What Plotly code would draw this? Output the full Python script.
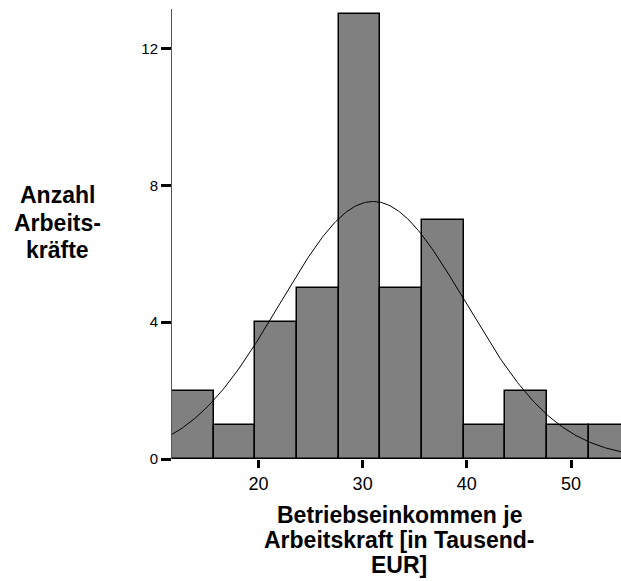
import numpy as np
import plotly.graph_objects as go

# Histogram data (bin width 4)
bin_centers = [13.7, 17.7, 21.7, 25.7, 29.7, 33.7, 37.7, 41.7, 45.7, 49.7, 53.7]
counts = [2, 1, 4, 5, 13, 5, 7, 1, 2, 1, 1]
bin_width = 4

# Fitted normal curve parameters
n_total = 42
curve_mean = 31.0
curve_sd = 8.9

x_ticks = [20, 30, 40, 50]
y_ticks = [0, 4, 8, 12]

y_title_lines = ["Anzahl", "Arbeits-", "kräfte"]
x_title_lines = ["Betriebseinkommen je", "Arbeitskraft [in Tausend-", "EUR]"]

xs = np.linspace(8, 60, 400)
curve = n_total * bin_width / (curve_sd * np.sqrt(2 * np.pi)) * np.exp(-0.5 * ((xs - curve_mean) / curve_sd) ** 2)

fig = go.Figure()
fig.add_trace(go.Bar(
    x=bin_centers, y=counts, width=bin_width,
    marker=dict(color="#808080", line=dict(color="black", width=1.5)),
    hoverinfo="x+y",
))
fig.add_trace(go.Scatter(
    x=xs, y=curve, mode="lines",
    line=dict(color="black", width=1),
    hoverinfo="skip",
))

font_family = "Arial, Liberation Sans, sans-serif"

# plot area in pixels: left 172, width 449; top 9, height 450
PL, PW, PT, PH = 172, 449, 9, 450


def px_x(p):
    return (p - PL) / PW


def px_y(p):
    return (PT + PH - p) / PH


annotations = []
for i, line in enumerate(y_title_lines):
    annotations.append(dict(
        text="<b>" + line + "</b>", xref="paper", yref="paper",
        x=px_x(57), y=px_y(195 + 27.5 * i),
        xanchor="center", yanchor="middle", showarrow=False,
        font=dict(size=23, family=font_family, color="black"),
    ))
for i, line in enumerate(x_title_lines):
    annotations.append(dict(
        text="<b>" + line + "</b>", xref="paper", yref="paper",
        x=px_x(399), y=px_y(515 + 25 * i),
        xanchor="center", yanchor="middle", showarrow=False,
        font=dict(size=23, family=font_family, color="black"),
    ))

fig.update_layout(
    width=621, height=581,
    margin=dict(l=PL, r=0, t=PT, b=581 - PT - PH),
    paper_bgcolor="white", plot_bgcolor="white",
    showlegend=False, bargap=0,
    font=dict(family=font_family, color="black"),
    xaxis=dict(
        range=[11.7, 54.8], tickvals=x_ticks, ticktext=[str(v) for v in x_ticks],
        ticks="outside", ticklen=8, tickwidth=3, tickcolor="black",
        showline=False, showgrid=False, zeroline=False,
        tickfont=dict(size=18, family=font_family, color="black"),
    ),
    yaxis=dict(
        range=[0, 13.16], tickvals=y_ticks, ticktext=[str(v) for v in y_ticks],
        ticks="outside", ticklen=10, tickwidth=3, tickcolor="black",
        showline=True, linecolor="#555555", linewidth=1,
        showgrid=False, zeroline=False,
        tickfont=dict(size=15, family=font_family, color="black"),
    ),
    annotations=annotations,
)

fig.write_html("out.html")
